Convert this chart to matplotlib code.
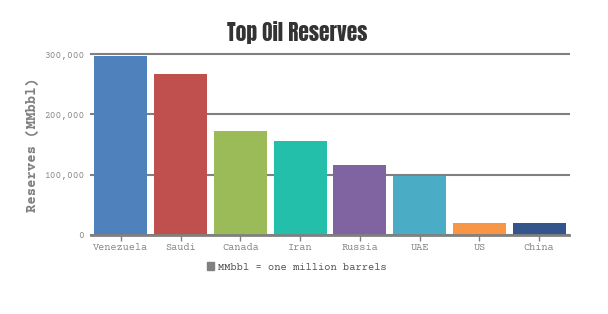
import numpy as np
import matplotlib
matplotlib.use("Agg")
import matplotlib.pyplot as plt
from matplotlib.patches import Patch
from matplotlib.ticker import FuncFormatter

# data
countries = ['Venezuela', 'Saudi', 'Canada', 'Iran', 'Russia', 'UAE', 'US', 'China']
reserves = [297000, 267000, 173000, 155000, 116000, 98000, 20000, 20000]
bar_colors = ['#4F81BC', '#C0504E', '#9BBB58', '#23BFAA', '#8064A1', '#4AACC5', '#F79647', '#33558B']
y_ticks = [0, 100000, 200000, 300000]

mono = ['Courier Prime', 'Liberation Mono']

fig = plt.figure(figsize=(6.08, 3.14), dpi=100)
ax = fig.add_axes([91 / 608, 1 - 235 / 314, 478 / 608, 181 / 314])

x = np.arange(len(countries))
ax.bar(x, reserves, width=0.89, color=bar_colors, zorder=3)

ax.set_xlim(-0.5, len(countries) - 0.5)
ax.set_ylim(0, 300000)
ax.set_yticks(y_ticks)
ax.yaxis.set_major_formatter(FuncFormatter(lambda v, p: f'{int(v):,}'))
ax.set_xticks(x)
ax.set_xticklabels(countries)

ax.grid(axis='y', color='#808080', linewidth=1.5, zorder=0)
ax.set_axisbelow(True)
for s in ['top', 'right', 'left']:
    ax.spines[s].set_visible(False)
ax.spines['bottom'].set_color('#808080')
ax.spines['bottom'].set_linewidth(2)
ax.spines['bottom'].set_zorder(4)

ax.tick_params(axis='y', length=0, pad=5, labelsize=6.9, labelcolor='#8a8a8a')
ax.tick_params(axis='x', length=4, width=1, color='#808080', pad=2, labelsize=7.4, labelcolor='#8a8a8a')
for lab in ax.get_xticklabels() + ax.get_yticklabels():
    lab.set_family(mono)
for line in ax.yaxis.get_gridlines():
    line.set_clip_on(False)

ax.set_ylabel('Reserves (MMbbl)', family=mono, fontsize=10, fontweight='bold', color='#808080',
              va='center')
ax.yaxis.set_label_coords(-0.123, 0.5)

fig.text(297 / 608, 1 - 33 / 314, 'Top Oil Reserves', ha='center', va='center',
         family=['Anton', 'DejaVu Sans'], fontsize=15.5, color='#333333')

leg = fig.legend(handles=[Patch(color='#808080', label='MMbbl = one million barrels')],
                 loc='center', bbox_to_anchor=(297 / 608, 1 - 267 / 314), frameon=False,
                 prop={'family': mono, 'size': 7.5}, handlelength=0.7, handleheight=0.7, handletextpad=0.4)
for t in leg.get_texts():
    t.set_color('#555555')

fig.savefig('out.png', dpi=100)
